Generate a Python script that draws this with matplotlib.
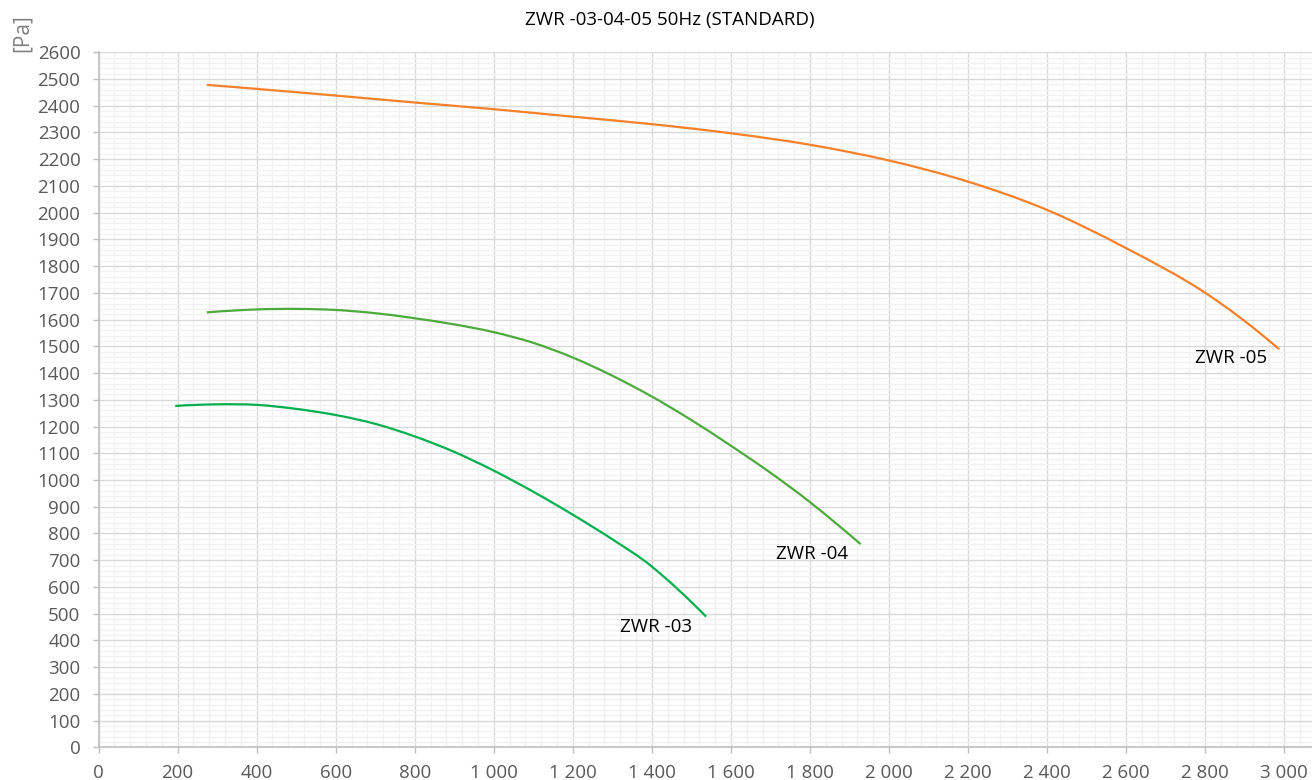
import numpy as np
import matplotlib.pyplot as plt
from matplotlib.path import Path
from matplotlib.patches import PathPatch
from matplotlib.ticker import MultipleLocator, FuncFormatter

# airflow [m3/h] vs pressure [Pa]
zwr03_q = [194, 300, 400, 500, 600, 700, 800, 900, 1000, 1100, 1200, 1300, 1400, 1537]
zwr03_p = [1277, 1283, 1281, 1266, 1243, 1210, 1163, 1105, 1035, 956, 870, 778, 676, 489]

zwr04_q = [274, 400, 500, 600, 700, 800, 900, 1000, 1100, 1200, 1300, 1400, 1500, 1600, 1700, 1800, 1928]
zwr04_p = [1627, 1638, 1640, 1636, 1624, 1605, 1582, 1553, 1513, 1458, 1390, 1312, 1224, 1128, 1027, 917, 760]

zwr05_q = [274, 400, 600, 800, 1000, 1200, 1400, 1600, 1800, 2000, 2200, 2400, 2600, 2800, 2987]
zwr05_p = [2478, 2463, 2438, 2412, 2387, 2359, 2331, 2297, 2254, 2195, 2116, 2010, 1867, 1700, 1489]

labels = ['ZWR -03', 'ZWR -04', 'ZWR -05']
label_pos = [(1410, 449), (1806, 723), (2865, 1457)]
colors = ['#00B04F', '#4DAA3C', '#F7802A']


def smooth_path(xs, ys):
    # smoothed line like excel's: cubic segments with dy/dx tangents
    x = np.asarray(xs, float)
    y = np.asarray(ys, float)
    n = len(x)
    m = np.empty(n)
    m[1:-1] = (y[2:] - y[:-2]) / (x[2:] - x[:-2])
    m[0] = 2 * (y[1] - y[0]) / (x[1] - x[0]) - m[1]
    m[-1] = 2 * (y[-1] - y[-2]) / (x[-1] - x[-2]) - m[-2]
    verts = [(x[0], y[0])]
    codes = [Path.MOVETO]
    for i in range(n - 1):
        h = x[i + 1] - x[i]
        verts += [(x[i] + h / 3, y[i] + m[i] * h / 3),
                  (x[i + 1] - h / 3, y[i + 1] - m[i + 1] * h / 3),
                  (x[i + 1], y[i + 1])]
        codes += [Path.CURVE4] * 3
    return Path(verts, codes)


plt.rcParams['font.family'] = ['Open Sans', 'DejaVu Sans']

fig = plt.figure(figsize=(13.12, 7.8), dpi=100)
ax = fig.add_axes([0.0751, 0.0419, 0.9249, 0.8911])

series = [(zwr03_q, zwr03_p), (zwr04_q, zwr04_p), (zwr05_q, zwr05_p)]
for (q, p), c in zip(series, colors):
    ax.add_patch(PathPatch(smooth_path(q, p), fill=False, edgecolor=c, lw=1.6,
                           capstyle='butt', zorder=3))

for name, (x, y) in zip(labels, label_pos):
    ax.text(x, y, name, ha='center', va='center', fontsize=13.5, color='#000000')

ax.set_xlim(0, 3070)
ax.set_ylim(0, 2600)
ax.xaxis.set_major_locator(MultipleLocator(200))
ax.xaxis.set_minor_locator(MultipleLocator(40))
ax.yaxis.set_major_locator(MultipleLocator(100))
ax.yaxis.set_minor_locator(MultipleLocator(20))
ax.xaxis.set_major_formatter(FuncFormatter(lambda v, _: f'{int(v):,}'.replace(',', ' ')))

ax.grid(which='major', color='#D9D9D9', lw=1.0, zorder=1)
ax.grid(which='minor', color='#F2F2F2', lw=1.0, zorder=0)
ax.set_axisbelow(True)

for s in ['top', 'right']:
    ax.spines[s].set_visible(False)
for s in ['left', 'bottom']:
    ax.spines[s].set_color('#BFBFBF')
    ax.spines[s].set_linewidth(1.2)

ax.tick_params(which='major', length=4, width=1, color='#BFBFBF',
               labelsize=13.5, labelcolor='#595959', pad=9)
ax.tick_params(which='minor', length=0)
ax.tick_params(axis='x', pad=8)

fig.text(0.5107, 0.974, 'ZWR -03-04-05 50Hz (STANDARD)', ha='center', va='center',
         fontsize=13.5, color='#000000')
fig.text(0.0168, 0.958, '[Pa]', ha='center', va='center', rotation=90,
         fontsize=15, color='#7F7F7F')

fig.savefig('out.png', dpi=100)
